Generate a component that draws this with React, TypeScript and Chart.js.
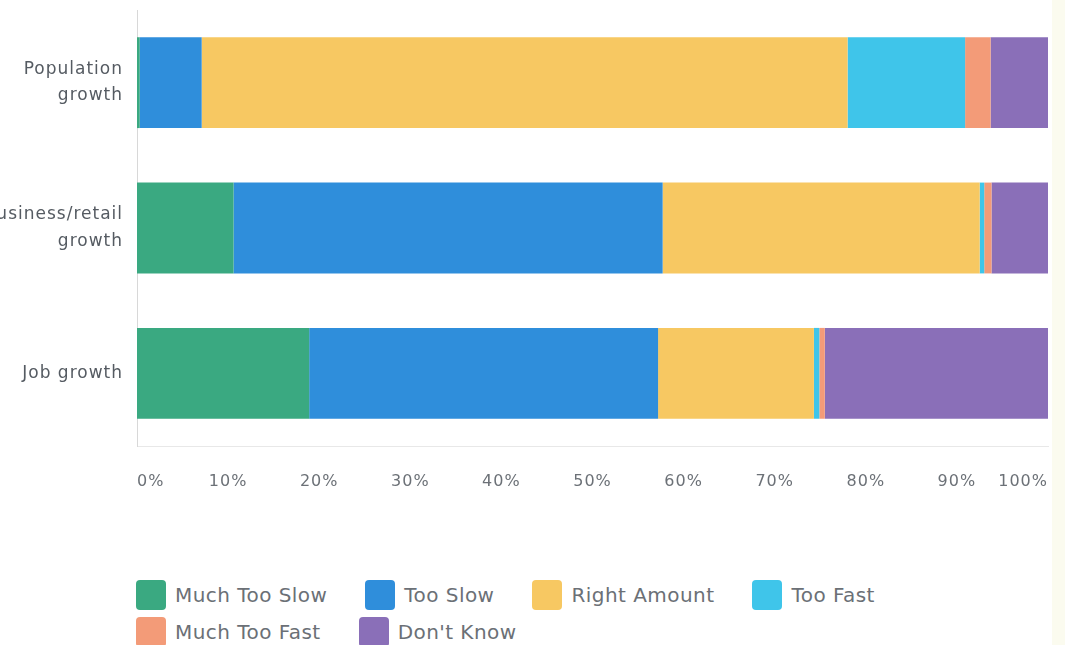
import React, { useEffect, useRef } from "react";
import { Chart, registerables } from "chart.js";

Chart.register(...registerables);

const categories: (string | string[])[] = [
  ["Population", "growth"],
  ["Business/retail", "growth"],
  "Job growth",
];
const seriesNames = ["Much Too Slow", "Too Slow", "Right Amount", "Too Fast", "Much Too Fast", "Don't Know"];
const muchTooSlow = [0.3, 10.6, 18.9];
const tooSlow = [6.8, 47.1, 38.3];
const rightAmount = [70.9, 34.8, 17.1];
const tooFast = [12.9, 0.5, 0.6];
const muchTooFast = [2.8, 0.8, 0.6];
const dontKnow = [6.3, 6.2, 24.5];
const xTicks = [0, 10, 20, 30, 40, 50, 60, 70, 80, 90, 100];
const colors = ["#3aa981", "#2f8edb", "#f7c862", "#3fc5ea", "#f39b78", "#8a6fb8"];

const seriesValues = [muchTooSlow, tooSlow, rightAmount, tooFast, muchTooFast, dontKnow];

const spacingPlugin = {
  id: "letterSpacing",
  beforeDraw(chart: any) {
    try {
      chart.ctx.letterSpacing = "1px";
    } catch (e) {}
  },
};

export default function App() {
  const canvasRef = useRef<HTMLCanvasElement | null>(null);

  useEffect(() => {
    document.body.style.margin = "0";
    const canvas = canvasRef.current;
    if (!canvas) return;
    const chart = new Chart(canvas, {
      type: "bar",
      data: {
        labels: categories as any,
        datasets: seriesNames.map((name, i) => ({
          label: name,
          data: seriesValues[i],
          backgroundColor: colors[i],
          borderWidth: 0,
          categoryPercentage: 1,
          barPercentage: 0.625,
        })),
      },
      options: {
        indexAxis: "y",
        animation: false,
        responsive: true,
        maintainAspectRatio: false,
        layout: { padding: { top: 10, right: 17, left: 0, bottom: 0 } },
        plugins: {
          legend: { display: false },
          tooltip: { enabled: false },
        },
        scales: {
          x: {
            stacked: true,
            min: 0,
            max: 100,
            afterBuildTicks: (scale: any) => {
              scale.ticks = xTicks.map((v) => ({ value: v }));
            },
            afterFit: (scale: any) => {
              scale.height = 54;
              scale.paddingLeft = 0;
              scale.paddingRight = 0;
            },
            grid: { display: false, drawTicks: false },
            border: { display: true, color: "#e8e8e8", width: 1 },
            ticks: {
              align: "inner",
              autoSkip: false,
              maxRotation: 0,
              padding: 26,
              color: "#6c7177",
              font: { family: "'DejaVu Sans'", size: 16 },
              callback: (v: any) => v + "%",
            },
          },
          y: {
            stacked: true,
            afterFit: (scale: any) => {
              scale.width = 137;
              scale.paddingTop = 0;
              scale.paddingBottom = 0;
            },
            grid: { display: false, drawTicks: false },
            border: { display: true, color: "#d8d8d8", width: 1 },
            ticks: {
              padding: 14,
              color: "#555b62",
              font: { family: "'DejaVu Sans'", size: 17, lineHeight: 1.55 },
            },
          },
        },
      },
      plugins: [spacingPlugin],
    } as any);
    return () => chart.destroy();
  }, []);

  return (
    <div style={{ position: "relative", width: 1065, height: 645, overflow: "hidden", background: "#ffffff" }}>
      <div style={{ position: "absolute", left: 1052, top: 0, width: 13, height: 645, background: "#fbfbef" }} />
      <div style={{ position: "absolute", left: 0, top: 0, width: 1065, height: 500 }}>
        <canvas ref={canvasRef} />
      </div>
      <div
        style={{
          position: "absolute",
          left: 136,
          top: 580,
          width: 900,
          display: "flex",
          flexWrap: "wrap",
          columnGap: 38,
          rowGap: 7,
          fontFamily: "'DejaVu Sans'",
          fontSize: 20,
          letterSpacing: "0.45px",
          color: "#6b7076",
        }}
      >
        {seriesNames.map((name, i) => (
          <div key={name} style={{ display: "flex", alignItems: "center", height: 30 }}>
            <span
              style={{
                display: "inline-block",
                width: 30,
                height: 30,
                borderRadius: 4,
                background: colors[i],
                marginRight: 9,
              }}
            />
            <span style={{ lineHeight: "30px", whiteSpace: "nowrap" }}>{name}</span>
          </div>
        ))}
      </div>
    </div>
  );
}
